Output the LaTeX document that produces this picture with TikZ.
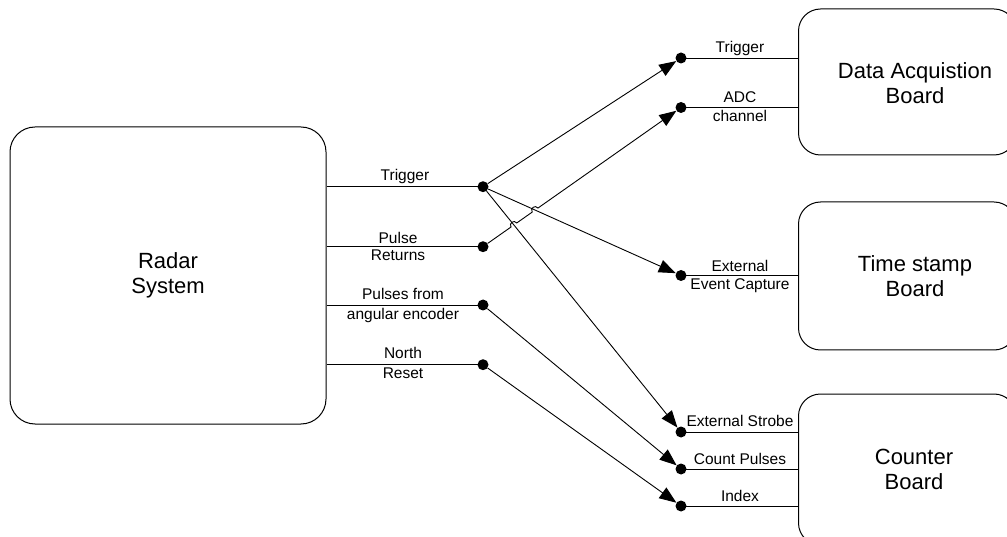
\documentclass[tikz,border=0pt]{standalone}
\usepackage{fontspec}
\setmainfont{Liberation Sans}
\usetikzlibrary{arrows.meta,calc,intersections}
\begin{document}
\begin{tikzpicture}[x=1pt,y=-1pt,
  box/.style={draw, line width=1pt, rounded corners=22pt, inner sep=0pt},
  bigtext/.style={font=\fontsize{22}{25.5}\selectfont, align=center, inner sep=0pt},
  sig/.style={font=\fontsize{15.5}{16}\selectfont, inner sep=0pt, anchor=base},
  dot/.style={circle, inner sep=0pt, minimum size=11pt},
  wire/.style={line width=0.9pt},
  link/.style={wire, -{Triangle[length=17pt,width=13pt]}},
]
\useasboundingbox (0,0) rectangle (1007,537);
\clip (0,0) rectangle (1007,537);

% blocks
\node[box, minimum width=316pt, minimum height=297pt, rounded corners=25pt,
      bigtext] (radar) at (168,275.5) {Radar\\System};
\node[box, minimum width=217.5pt, minimum height=146pt] (daq) at (907.25,82) {};
\node[box, minimum width=217.5pt, minimum height=148pt] (ts) at (907.25,276) {};
\node[box, minimum width=217.5pt, minimum height=151pt] (cnt) at (907.25,469.5) {};
\node[bigtext] (daqtext) at (915,83) {Data Acquistion\\Board};
\node[bigtext] (tstext) at (915,276) {Time stamp\\Board};
\node[bigtext] (cnttext) at (914,469.5) {Counter\\Board};

% terminal points
\coordinate (otrig-p) at (483,186.7);
\coordinate (oret-p) at (483,246.7);
\coordinate (oenc-p) at (483,305);
\coordinate (onorth-p) at (483,364.7);
\coordinate (daqtrig-p) at (681,58);
\coordinate (daqadc-p) at (681,107.5);
\coordinate (tsext-p) at (681,275.5);
\coordinate (cstrobe-p) at (681,432);
\coordinate (cpulse-p) at (681,469);
\coordinate (cindex-p) at (681,506);

\foreach \t in {otrig,oret,oenc,onorth,daqtrig,daqadc,tsext,cstrobe,cpulse,cindex}
  \node[dot] (\t) at (\t-p) {};

% stubs from the blocks
\foreach \t in {otrig,oret,oenc,onorth}
  \draw[wire] (radar.east |- \t) -- (\t.center);
\foreach \t in {daqtrig,daqadc}
  \draw[wire] (\t.center) -- (\t -| daq.west);
\draw[wire] (tsext.center) -- (tsext -| ts.west);
\foreach \t in {cstrobe,cpulse,cindex}
  \draw[wire] (\t.center) -- (\t -| cnt.west);

% signal names
\node[sig] (l-trig) at (405,181) {Trigger};
\node[sig] (l-pulse) at (398,244) {Pulse};
\node[sig] (l-returns) at (398,260.5) {Returns};
\node[sig] (l-pf) at (403,300) {Pulses from};
\node[sig] (l-ae) at (403,320) {angular encoder};
\node[sig] (l-north) at (403,359) {North};
\node[sig] (l-reset) at (403,378.5) {Reset};

\node[sig] (r-trig) at (740,52.5) {Trigger};
\node[sig] (r-adc) at (740,103) {ADC};
\node[sig] (r-chan) at (740,121.5) {channel};
\node[sig] (r-ext) at (740,271.5) {External};
\node[sig] (r-evt) at (740,289.5) {Event Capture};
\node[sig] (r-strobe) at (740,426.5) {External Strobe};
\node[sig] (r-count) at (740,464) {Count Pulses};
\node[sig] (r-index) at (740,501.5) {Index};

% routing
\draw[link] (otrig) -- (daqtrig);
\draw[link, name path=ts-line] (otrig) -- (tsext);
\draw[link, name path=strobe-line] (otrig) -- (cstrobe);
\draw[link] (oenc) -- (cpulse);
\draw[link] (onorth) -- (cindex);

% pulse returns line hops over the two trigger lines
\path[name path=pr-line] (oret) -- (daqadc);
\path[name intersections={of=pr-line and strobe-line, by=hopA}];
\path[name intersections={of=pr-line and ts-line, by=hopB}];
\coordinate (hopA-in) at ($(hopA)!3.5pt!(oret)$);
\coordinate (hopA-out) at ($(hopA)!3.5pt!(daqadc)$);
\coordinate (hopB-in) at ($(hopB)!3.5pt!(oret)$);
\coordinate (hopB-out) at ($(hopB)!3.5pt!(daqadc)$);
\draw[link] (oret) -- (hopA-in)
  .. controls ($(hopA-in)!4.5pt!90:(hopA-out)$) and ($(hopA-out)!4.5pt!-90:(hopA-in)$) .. (hopA-out)
  -- (hopB-in)
  .. controls ($(hopB-in)!4.5pt!90:(hopB-out)$) and ($(hopB-out)!4.5pt!-90:(hopB-in)$) .. (hopB-out)
  -- (daqadc);

% connection dots
\foreach \t in {otrig,oret,oenc,onorth,daqtrig,daqadc,tsext,cstrobe,cpulse,cindex}
  \fill (\t.center) circle[radius=5.5pt];
\end{tikzpicture}
\end{document}
